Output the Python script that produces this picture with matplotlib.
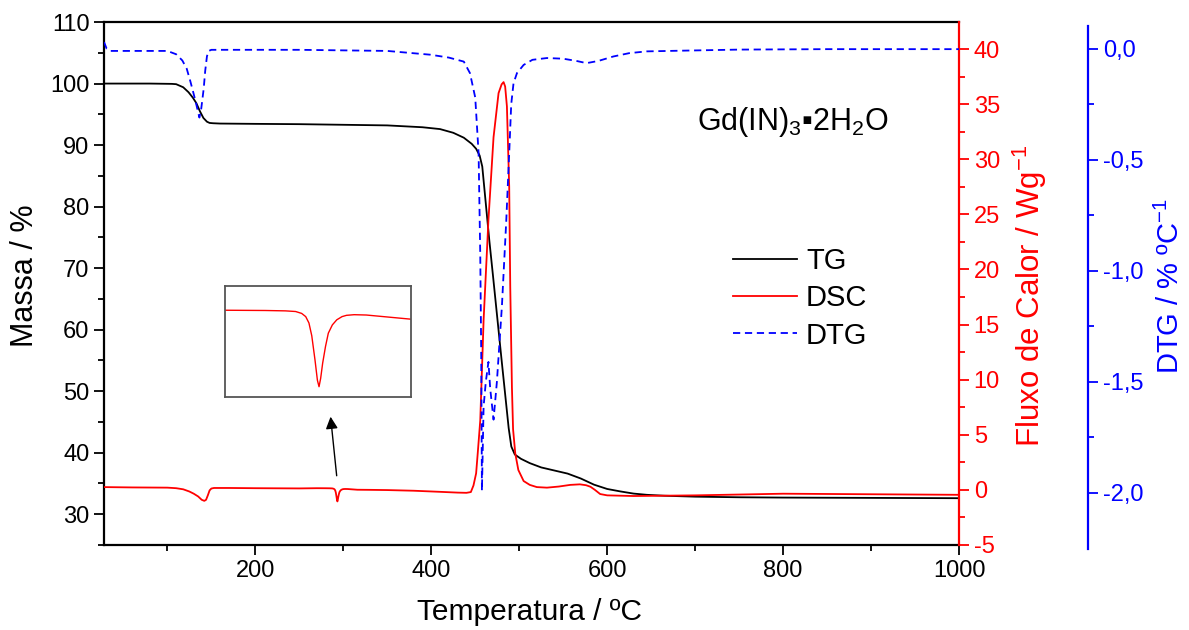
# TG / DSC / DTG curves for Gd(IN)3.2H2O
import matplotlib
matplotlib.use('Agg')
from matplotlib import pyplot as plt
import numpy as np

plt.rcParams['font.family'] = ['Liberation Sans', 'DejaVu Sans']
plt.rcParams['mathtext.fontset'] = 'custom'
plt.rcParams['mathtext.rm'] = 'Liberation Sans'
plt.rcParams['mathtext.it'] = 'Liberation Sans:italic'
plt.rcParams['mathtext.default'] = 'regular'
plt.rcParams['mathtext.fallback'] = 'stixsans'
plt.rcParams['axes.unicode_minus'] = False

# TG, mass %
tg_temp = [28, 80, 105, 110, 118, 124, 129, 133, 137, 141, 145, 148, 152, 160, 200, 250, 300, 350,
           390, 410, 425, 437, 446, 451, 455, 458, 462, 466, 470, 475, 480, 484, 488, 491, 495, 502,
           512, 525, 540, 555, 570, 585, 600, 615, 630, 645, 665, 700, 750, 800, 900, 1000]
tg_mass = [100, 100, 99.95, 99.9, 99.4, 98.6, 97.7, 96.8, 95.5, 94.4, 93.8, 93.6, 93.55, 93.5, 93.45, 93.4, 93.3, 93.2,
           92.9, 92.6, 92.0, 91.2, 90.2, 89.4, 88.3, 86.5, 80.5, 74.5, 69.0, 62.0, 55.0, 49.5, 44.0, 41.0, 39.7, 39.0,
           38.3, 37.6, 37.1, 36.6, 35.8, 34.8, 34.1, 33.7, 33.35, 33.15, 33.0, 32.85, 32.75, 32.7, 32.65, 32.6]

# DSC, W/g
dsc_temp = [28, 60, 100, 110, 118, 125, 130, 135, 139, 142, 144, 146, 148, 150, 153, 170, 200, 250, 270, 280,
            285, 287.5, 289, 290, 290.8, 291.5, 292.3, 292.9, 293.3, 293.7, 294.2, 294.9, 295.6, 296.6, 297.7,
            299, 300.1, 302, 305, 316, 330, 350, 380, 410, 430, 440, 445,
            448, 451, 453, 455.7, 459.5, 465, 470.8, 476.5, 480, 482.2, 484, 486, 488.6, 489.8, 491.7, 493,
            495.5, 499, 505, 512, 520, 531.5, 545, 558, 569, 576, 581, 586, 592, 600, 630, 700, 800, 900, 1000]
dsc_flow = [0.25, 0.22, 0.2, 0.15, 0.05, -0.15, -0.35, -0.6, -0.9, -1.0, -0.9, -0.5, -0.05, 0.12, 0.17, 0.17, 0.15, 0.13, 0.15, 0.146,
            0.14, 0.13, 0.1, 0.05, -0.05, -0.25, -0.63, -0.95, -1.05, -0.92, -0.68, -0.42, -0.21, -0.08, 0.0,
            0.05, 0.07, 0.08, 0.075, 0.01, 0.0, -0.02, -0.08, -0.18, -0.25, -0.27, -0.2,
            0.4, 1.5, 3.5, 6.3, 15.4, 24.5, 32.0, 36.0, 36.8, 37.0, 36.6, 34.8, 27.5, 18.4, 9.3, 5.5,
            3.3, 1.8, 0.8, 0.45, 0.25, 0.2, 0.3, 0.45, 0.5, 0.42, 0.28, 0.0, -0.38, -0.5, -0.56, -0.5, -0.35, -0.4, -0.45]

# DTG, %/oC
dtg_temp = [28, 31, 35, 60, 100, 110, 117, 122, 126, 129, 132, 136.4, 138.5, 141.3, 143, 145, 147, 150, 160, 250,
            350, 399, 420, 437, 444, 450, 453.8, 455.7, 456.8, 457.6, 459.5, 462, 465, 467, 470.8, 474.6, 480.3,
            485.2, 488.6, 490.9, 493.5, 497.4, 505, 515, 531.5, 550, 565, 576.5, 590, 607, 625, 645, 683, 750, 850, 1000]
dtg_rate = [0.03, 0.0, -0.01, -0.01, -0.01, -0.025, -0.053, -0.09, -0.145, -0.19, -0.236, -0.31, -0.27, -0.18, -0.1, -0.034, -0.01, -0.005, -0.005, -0.005,
            -0.01, -0.027, -0.04, -0.058, -0.11, -0.22, -0.47, -0.93, -1.38, -1.99, -1.61, -1.5, -1.41, -1.53, -1.67, -1.50, -1.16,
            -0.78, -0.47, -0.25, -0.156, -0.11, -0.073, -0.05, -0.042, -0.045, -0.055, -0.065, -0.055, -0.035, -0.02, -0.012, -0.009, -0.004, -0.002, -0.002]

dtg_ticks = [0.0, -0.5, -1.0, -1.5, -2.0]
dtg_labels = ['0,0', '-0,5', '-1,0', '-1,5', '-2,0']

fig = plt.figure(figsize=(11.89, 6.30), dpi=100)
ax = fig.add_axes([0.0875, 0.135, 0.7191, 0.830])
ax2 = ax.twinx()
ax3 = ax.twinx()

l1, = ax.plot(tg_temp, tg_mass, color='black', lw=1.3, label='TG')
l2, = ax2.plot(dsc_temp, dsc_flow, color='red', lw=1.3, label='DSC')
l3, = ax3.plot(dtg_temp, dtg_rate, color='blue', lw=1.3, ls=(0, (4, 2.6)), label='DTG')

ax.set_xlim(28, 1000)
ax.set_ylim(25, 110)
ax2.set_ylim(-5, 42.45)
ax3.set_ylim(-2.234, 0.12)

ax.set_xticks(np.arange(200, 1001, 200))
ax.set_xticks(np.arange(100, 1000, 200), minor=True)
ax.set_yticks(np.arange(30, 111, 10))
ax.set_yticks(np.arange(25, 110, 10), minor=True)
ax2.set_yticks(np.arange(-5, 41, 5))
ax2.set_yticks(np.arange(-2.5, 42, 5), minor=True)
ax3.set_yticks(dtg_ticks)
ax3.set_yticklabels(dtg_labels)
ax3.set_yticks([-0.25, -0.75, -1.25, -1.75], minor=True)

for s in ['top', 'left', 'bottom']:
    ax.spines[s].set_linewidth(1.6)
ax.spines['right'].set_visible(False)
for a in (ax2, ax3):
    for s in ['top', 'left', 'bottom']:
        a.spines[s].set_visible(False)
ax2.spines['right'].set_color('red')
ax2.spines['right'].set_linewidth(1.6)
ax3.spines['right'].set_position(('axes', 1.151))
ax3.spines['right'].set_color('blue')
ax3.spines['right'].set_linewidth(1.6)
ax3.spines['right'].set_bounds(-2.25, 0.1)

ax.tick_params(which='major', direction='out', length=7, width=1.3, labelsize=17)
ax.tick_params(which='minor', direction='out', length=4, width=1.3)
ax2.tick_params(which='major', direction='out', length=7, width=1.3, labelsize=17, colors='red')
ax2.tick_params(which='minor', direction='out', length=4, width=1.3, colors='red')
ax3.tick_params(which='major', direction='out', length=7, width=1.3, labelsize=17, colors='blue')
ax3.tick_params(which='minor', direction='out', length=4, width=1.3, colors='blue')

ax.set_xlabel('Temperatura / ºC', fontsize=21.5, va='center')
ax.xaxis.set_label_coords(0.498, -0.128)
ax.set_ylabel('Massa / %', fontsize=22, va='center')
ax.yaxis.set_label_coords(-0.092, 0.514)
ax2.set_ylabel('Fluxo de Calor / Wg$^{-1}$', fontsize=22.5, color='red', va='center')
ax2.yaxis.set_label_coords(1.083, 0.476)
ax3.set_ylabel('DTG / % ºC$^{-1}$', fontsize=21, color='blue', va='center')
ax3.yaxis.set_label_coords(1.247, 0.495)

ax.text(0.6936, 0.793, 'Gd(IN)$_3$▪2H$_2$O', transform=ax.transAxes, fontsize=22,
        ha='left', va='baseline')

ax3.legend(handles=[l1, l2, l3], loc='upper left', bbox_to_anchor=(0.7357, 0.57),
           frameon=False, fontsize=21, borderpad=0, borderaxespad=0,
           handlelength=2.2, handletextpad=0.3, labelspacing=0.32)

# arrow pointing to the inset
ax.annotate('', xy=(285.2, 46.3), xytext=(292.8, 35.8),
            arrowprops=dict(arrowstyle='-|>', color='black', lw=1, mutation_scale=18))

# inset with the DSC peak near 293 oC
ins = fig.add_axes([0.1892, 0.3694, 0.1562, 0.1771])
ins.plot(dsc_temp, dsc_flow, color='red', lw=1)
ins.set_xlim(270, 316)
ins.set_ylim(-1.216, 0.535)
ins.set_xticks([])
ins.set_yticks([])
for s in ins.spines.values():
    s.set_color('#555555')
    s.set_linewidth(1.3)

fig.savefig('out.png', dpi=100)
